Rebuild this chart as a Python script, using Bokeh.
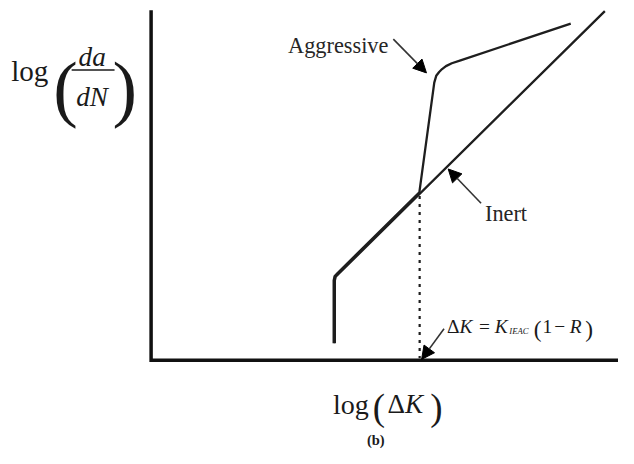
from bokeh.plotting import figure
from bokeh.models import Range1d, Label, Arrow, NormalHead
from bokeh.embed import file_html
from bokeh.resources import INLINE

# ---- schematic data (log units; origin at the axis corner) ----
axis_x = [0.0, 0.0, 12.0]
axis_y = [9.06, 0.0, 0.0]

inert_x = [4.7125, 4.7125, 4.735, 4.8125, 11.6375]
inert_y = [0.4375, 2.0625, 2.16, 2.2375, 9.0375]

aggr_x = [4.6825, 4.6825, 4.705, 4.7825, 6.88, 7.2625, 7.3125, 7.3875, 7.4625, 7.5625, 7.7125, 7.9375, 10.7625]
aggr_y = [0.4375, 2.0625, 2.17, 2.2575, 4.345, 7.1875, 7.3625, 7.4625, 7.5375, 7.6125, 7.6875, 7.7625, 8.7125]

threshold_x = [6.8875, 6.8875]
threshold_y = [4.25, 0.05]

# arrows: (x_start, y_start, x_end, y_end)
arrow_aggr = (6.2125, 8.3125, 7.0625, 7.4375)
arrow_inert = (8.4625, 4.0625, 7.62, 4.95)
arrow_dk = (7.5125, 0.8125, 6.9375, 0.02)

W, H = 618, 448
REF_W, REF_H = 634, 464
S = 0.97  # font scale (figure px per reference px)


def tx(sx):
    return (sx - 154.5) / 40.0


def ty(sy):
    return (372.5 - sy) / 40.0


p = figure(width=W, height=H, output_backend="svg", toolbar_location=None,
           x_range=Range1d(tx(0), tx(REF_W)), y_range=Range1d(ty(REF_H), ty(0)),
           min_border=0, min_border_left=0, min_border_right=0,
           min_border_top=0, min_border_bottom=0)
p.axis.visible = False
p.grid.visible = False
p.outline_line_color = None
p.background_fill_color = "white"
p.border_fill_color = "white"

LC = "#1e1e1e"
p.line(axis_x, axis_y, line_width=3.5, line_color="#111111", line_join="miter")
p.line(inert_x, inert_y, line_width=2.3, line_color=LC)
p.line(aggr_x, aggr_y, line_width=2.3, line_color=LC, line_join="round")
p.line(threshold_x, threshold_y, line_width=2.2, line_color=LC, line_dash="3 5")

for (xs, ys, xe, ye) in (arrow_aggr, arrow_inert, arrow_dk):
    p.add_layout(Arrow(x_start=xs, y_start=ys, x_end=xe, y_end=ye,
                       line_width=1.6, line_color="#333333",
                       end=NormalHead(size=13, fill_color="black", line_color="black")))

SERIF = "Liberation Serif"


def lab(text, sx, sy, size, style="normal", align="left", color="#1a1a1a"):
    p.add_layout(Label(x=tx(sx), y=ty(sy), text=text, text_font=SERIF,
                       text_font_size=f"{size * S:.1f}px", text_font_style=style,
                       text_align=align, text_baseline="alphabetic",
                       text_color=color))


# curve labels
lab("Aggressive", 295, 47, 23, color="#262626")
lab("Inert", 497, 221, 23, color="#262626")

# ΔK = K_IEAC(1 − R)
lab("Δ", 458, 338, 20)
lab("K", 471, 338, 20, "italic")
lab("=", 491, 338, 20)
lab("K", 507, 338, 20, "italic")
lab("IEAC", 522, 342, 9, "italic")
lab("(", 547, 340, 24)
lab("1", 556, 338, 20)
lab("−", 568, 338, 20)
lab("R", 584, 338, 20, "italic")
lab(")", 600, 340, 24)

# y-axis title: log(da/dN)
lab("log", 11, 73, 30)
lab("(", 54, 91, 76)
lab("da", 94, 58, 28, "italic", align="center")
lab("dN", 94, 100, 28, "italic", align="center")
p.line([tx(73), tx(117)], [ty(72), ty(72)], line_width=1.5, line_color="#1a1a1a")
lab(")", 115, 91, 76)

# x-axis title: log(ΔK)
lab("log", 341, 418, 29)
lab("(", 382, 422, 38)
lab("Δ", 397, 418, 28)
lab("K", 415, 418, 28, "italic")
lab(")", 441, 422, 38)

lab("(b)", 385, 455, 15, "bold", align="center")

open("out.html", "w").write(file_html(p, INLINE))
